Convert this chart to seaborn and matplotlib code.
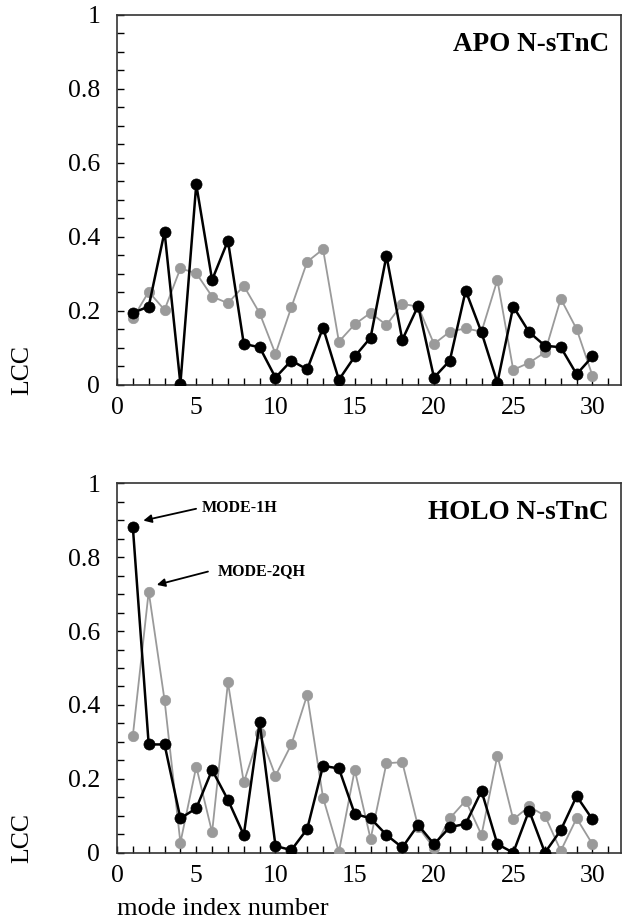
import numpy as np
import pandas as pd
import matplotlib
matplotlib.use("Agg")
import matplotlib.pyplot as plt
import seaborn as sns
from matplotlib.ticker import MultipleLocator, FixedLocator, FixedFormatter

sns.set_style("ticks")
plt.rcParams['font.family'] = ['Liberation Serif', 'DejaVu Serif']
plt.rcParams['text.color'] = 'black'
plt.rcParams['axes.labelcolor'] = 'black'
plt.rcParams['xtick.color'] = 'black'
plt.rcParams['ytick.color'] = 'black'

modes = list(range(1, 31))

apo_black = [0.195, 0.212, 0.414, 0.003, 0.542, 0.284, 0.390, 0.111, 0.102, 0.020,
             0.066, 0.042, 0.155, 0.014, 0.077, 0.128, 0.349, 0.122, 0.214, 0.020,
             0.066, 0.255, 0.142, 0.006, 0.212, 0.143, 0.106, 0.102, 0.029, 0.077]
apo_gray = [0.180, 0.252, 0.203, 0.315, 0.302, 0.239, 0.221, 0.268, 0.194, 0.084,
            0.210, 0.333, 0.367, 0.117, 0.164, 0.195, 0.162, 0.219, 0.212, 0.111,
            0.144, 0.153, 0.144, 0.284, 0.041, 0.060, 0.088, 0.233, 0.151, 0.025]

holo_black = [0.881, 0.293, 0.293, 0.093, 0.120, 0.224, 0.143, 0.048, 0.353, 0.018,
              0.007, 0.064, 0.235, 0.228, 0.105, 0.093, 0.048, 0.014, 0.075, 0.023,
              0.069, 0.078, 0.167, 0.023, 0.000, 0.114, 0.000, 0.061, 0.153, 0.090]
holo_gray = [0.317, 0.707, 0.413, 0.027, 0.233, 0.055, 0.461, 0.190, 0.323, 0.208,
             0.293, 0.427, 0.149, 0.002, 0.224, 0.037, 0.242, 0.245, 0.070, 0.012,
             0.093, 0.141, 0.048, 0.263, 0.090, 0.125, 0.100, 0.005, 0.093, 0.023]

ytick_vals = [0, 0.2, 0.4, 0.6, 0.8, 1.0]
ytick_labels = ["0", "0.2", "0.4", "0.6", "0.8", "1"]
xtick_vals = [0, 5, 10, 15, 20, 25, 30]
xtick_labels = ["0", "5", "10", "15", "20", "25", "30"]

panel_titles = ["APO N-sTnC", "HOLO N-sTnC"]

fig = plt.figure(figsize=(6.24, 9.23), dpi=100)
ax_top = fig.add_axes([0.1875, 0.5829, 0.8077, 0.4009])
ax_bot = fig.add_axes([0.1875, 0.0762, 0.8077, 0.4002])

GRAY = "#9a9a9a"

for ax, black, gray, title in [(ax_top, apo_black, apo_gray, panel_titles[0]),
                               (ax_bot, holo_black, holo_gray, panel_titles[1])]:
    df = pd.DataFrame({"mode": modes, "black": black, "gray": gray})
    sns.lineplot(data=df, x="mode", y="gray", ax=ax, color=GRAY, linewidth=1.3,
                 marker="o", markersize=7.5, markeredgecolor=GRAY, markeredgewidth=0.5,
                 zorder=3)
    sns.lineplot(data=df, x="mode", y="black", ax=ax, color="black", linewidth=1.8,
                 marker="o", markersize=8, markeredgecolor="black", markeredgewidth=0.5,
                 zorder=4)
    ax.set_xlim(0, 31.8)
    ax.set_ylim(0, 1.0)
    ax.yaxis.set_major_locator(FixedLocator(ytick_vals))
    ax.yaxis.set_major_formatter(FixedFormatter(ytick_labels))
    ax.yaxis.set_minor_locator(MultipleLocator(0.05))
    ax.xaxis.set_major_locator(FixedLocator(xtick_vals))
    ax.xaxis.set_major_formatter(FixedFormatter(xtick_labels))
    ax.xaxis.set_minor_locator(MultipleLocator(1))
    ax.tick_params(axis="both", which="both", direction="in", length=5, width=1.0,
                   labelsize=18.5, top=False, right=False, color="black",
                   labelcolor="black")
    ax.tick_params(axis="y", which="major", pad=12)
    ax.tick_params(axis="x", which="major", pad=9)
    for s in ax.spines.values():
        s.set_linewidth(1.2)
        s.set_color("#333333")
    ax.set_ylabel("LCC", fontsize=18.5, color="black")
    ax.yaxis.set_label_coords(-0.167, 0.04)
    ax.set_xlabel("")
    ax.text(0.976, 0.955, title, transform=ax.transAxes, ha="right", va="top",
            fontsize=19.5, fontweight="bold", color="black")

ax_bot.set_xlabel("mode index number", fontsize=19, color="black")
ax_bot.xaxis.set_label_coords(0.21, -0.122)

ax_bot.annotate("", xy=(1.66, 0.899), xytext=(4.99, 0.931),
                arrowprops=dict(arrowstyle="-|>", color="black", lw=1.3,
                                mutation_scale=12, shrinkA=0, shrinkB=0))
ax_bot.text(5.35, 0.934, "MODE-1H", fontsize=11.5, fontweight="bold", ha="left",
            va="center", color="black")
ax_bot.annotate("", xy=(2.51, 0.725), xytext=(5.74, 0.761),
                arrowprops=dict(arrowstyle="-|>", color="black", lw=1.3,
                                mutation_scale=12, shrinkA=0, shrinkB=0))
ax_bot.text(6.38, 0.763, "MODE-2QH", fontsize=11.5, fontweight="bold", ha="left",
            va="center", color="black")

fig.savefig("out.png", dpi=100)
